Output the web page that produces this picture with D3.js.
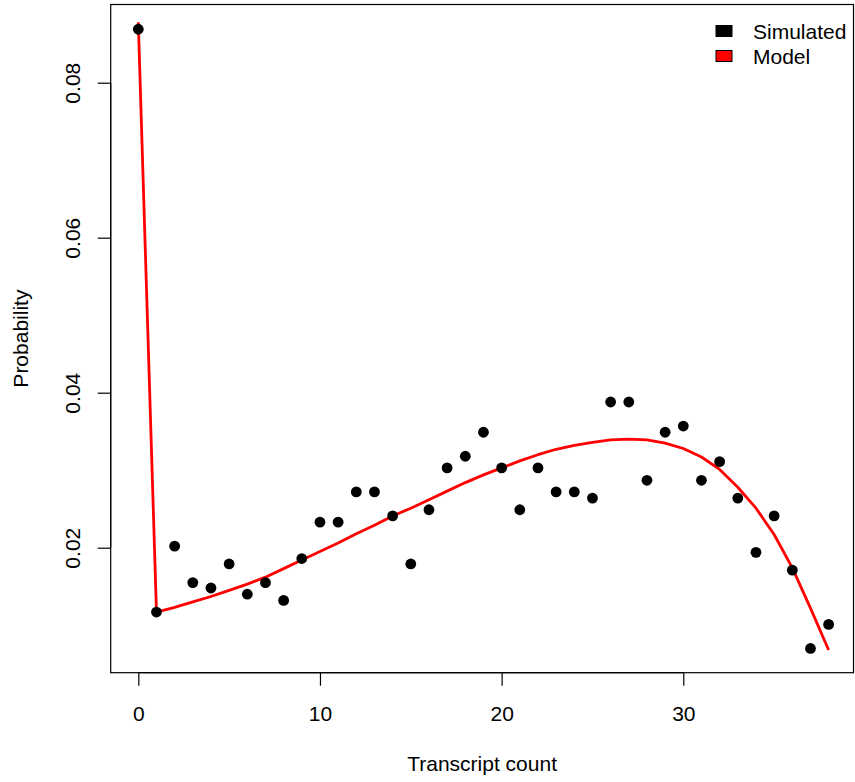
<!DOCTYPE html>
<html>
<head>
<meta charset="utf-8">
<script src="https://cdn.jsdelivr.net/npm/d3@7"></script>
<style>
  body { margin: 0; background: #fff; }
  svg { display: block; font-family: "Liberation Sans", Arial, sans-serif; }
</style>
</head>
<body>
<div id="chart"></div>
<script>
// transcript counts 0..38
const counts = d3.range(0, 39);

// simulated probabilities (black dots)
const simulated = [
  0.0869, 0.0117, 0.0202, 0.0155, 0.0148, 0.0179, 0.0140, 0.0155, 0.0132, 0.0186,
  0.0233, 0.0233, 0.0272, 0.0272, 0.0241, 0.0179, 0.0249, 0.0303, 0.0318, 0.0349,
  0.0303, 0.0249, 0.0303, 0.0272, 0.0272, 0.0264, 0.0388, 0.0388, 0.0287, 0.0349,
  0.0357, 0.0287, 0.0311, 0.0264, 0.0194, 0.0241, 0.0171, 0.0070, 0.0101
];

// model probabilities (red line)
const model = [
  0.0878, 0.0117, 0.0123, 0.0130, 0.0137, 0.0145, 0.0153, 0.0162, 0.0173, 0.0184,
  0.0195, 0.0206, 0.0218, 0.0229, 0.0241, 0.0251, 0.0262, 0.0273, 0.0284, 0.0294,
  0.0303, 0.0312, 0.0320, 0.0327, 0.0332, 0.0336, 0.0339, 0.0340, 0.0339, 0.0335,
  0.0328, 0.0317, 0.0301, 0.0278, 0.0251, 0.0217, 0.0174, 0.0122, 0.0068
];

const xTicks = [0, 10, 20, 30];
const yTicks = [0.02, 0.04, 0.06, 0.08];
const legendItems = ['Simulated', 'Model'];
const legendColors = ['#000000', '#ff0000'];

const W = 855, H = 782;
const box = {left: 110.7, right: 853.5, top: 4.5, bottom: 672.7};
const fontSize = 21;

const x = d3.scaleLinear().domain([0, 30]).range([138.3, 683.3]);
const y = d3.scaleLinear().domain([0.02, 0.08]).range([547.7, 82.7]);

const svg = d3.select('#chart')
  .append('svg')
  .attr('width', W)
  .attr('height', H);

// plot frame
svg.append('rect')
  .attr('x', box.left)
  .attr('y', box.top)
  .attr('width', box.right - box.left)
  .attr('height', box.bottom - box.top)
  .attr('fill', 'none')
  .attr('stroke', '#000')
  .attr('stroke-width', 1.2);

// x axis (R style: line only between first and last tick)
const xAxis = svg.append('g')
  .attr('transform', `translate(0, ${box.bottom})`)
  .call(d3.axisBottom(x).tickValues(xTicks).tickSize(13).tickPadding(20).tickFormat(d3.format('d')));
xAxis.select('.domain').remove();
xAxis.selectAll('.tick line').attr('stroke', '#000').attr('stroke-width', 1.2);
xAxis.selectAll('.tick text')
  .attr('font-size', fontSize)
  .attr('font-family', '"Liberation Sans", Arial, sans-serif')
  .attr('fill', '#000');
xAxis.append('line')
  .attr('x1', x(xTicks[0])).attr('x2', x(xTicks[xTicks.length - 1]))
  .attr('stroke', '#000').attr('stroke-width', 1.2);

// y axis
const yAxis = svg.append('g')
  .attr('transform', `translate(${box.left}, 0)`)
  .call(d3.axisLeft(y).tickValues(yTicks).tickSize(13).tickFormat(d3.format('.2f')));
yAxis.select('.domain').remove();
yAxis.selectAll('.tick line').attr('stroke', '#000').attr('stroke-width', 1.2);
yAxis.selectAll('.tick text')
  .attr('font-size', fontSize)
  .attr('font-family', '"Liberation Sans", Arial, sans-serif')
  .attr('fill', '#000')
  .attr('x', 0).attr('dy', 0)
  .attr('text-anchor', 'middle')
  .attr('transform', `translate(${80 - box.left}, 0) rotate(-90)`);
yAxis.append('line')
  .attr('y1', y(yTicks[0])).attr('y2', y(yTicks[yTicks.length - 1]))
  .attr('stroke', '#000').attr('stroke-width', 1.2);

// axis titles
svg.append('text')
  .attr('x', (box.left + box.right) / 2)
  .attr('y', 771)
  .attr('text-anchor', 'middle')
  .attr('font-size', fontSize)
  .text('Transcript count');

svg.append('text')
  .attr('transform', `translate(28, ${(box.top + box.bottom) / 2}) rotate(-90)`)
  .attr('text-anchor', 'middle')
  .attr('font-size', fontSize)
  .text('Probability');

// model line
const line = d3.line()
  .x((d, i) => x(counts[i]))
  .y(d => y(d));

svg.append('path')
  .datum(model)
  .attr('d', line)
  .attr('fill', 'none')
  .attr('stroke', '#ff0000')
  .attr('stroke-width', 2.8)
  .attr('stroke-linejoin', 'round');

// simulated points
svg.append('g')
  .selectAll('circle')
  .data(simulated)
  .enter()
  .append('circle')
  .attr('cx', (d, i) => x(counts[i]))
  .attr('cy', d => y(d))
  .attr('r', 5.4)
  .attr('fill', '#000');

// legend
const legend = svg.append('g').attr('transform', 'translate(716, 31)');
const items = legend.selectAll('g')
  .data(legendItems)
  .enter()
  .append('g')
  .attr('transform', (d, i) => `translate(0, ${i * 25})`);

items.append('rect')
  .attr('x', 0).attr('y', -5.5)
  .attr('width', 16).attr('height', 11)
  .attr('fill', (d, i) => legendColors[i])
  .attr('stroke', '#000')
  .attr('stroke-width', 1);

items.append('text')
  .attr('x', 37)
  .attr('y', 7.5)
  .attr('font-size', fontSize)
  .text(d => d);
</script>
</body>
</html>
